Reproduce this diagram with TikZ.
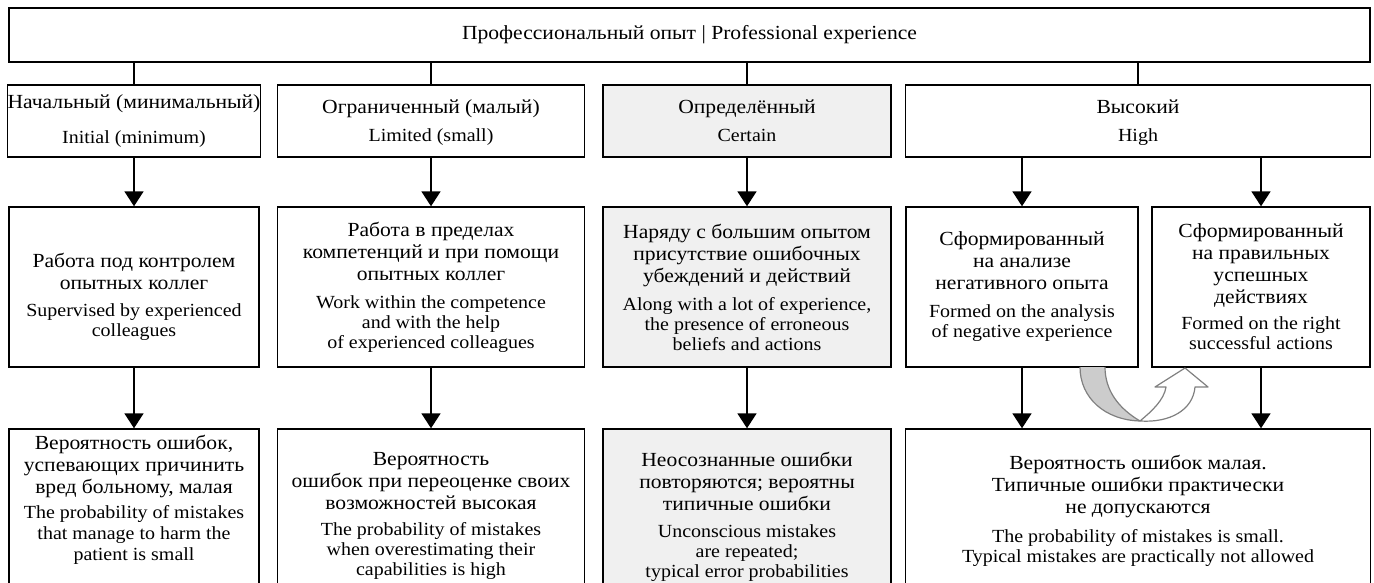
\documentclass[tikz,border=0pt]{standalone}
\usepackage{fontspec}
\setmainfont[FakeStretch=1.08]{Liberation Serif}
\usetikzlibrary{arrows.meta}
\definecolor{boxgray}{RGB}{240,240,240}
\definecolor{crescentgray}{RGB}{204,204,204}
\definecolor{outlinegray}{RGB}{128,128,128}
\newcommand\rutxt{\fontsize{20}{22}\selectfont}
\newcommand\entxt{\fontsize{18.5}{22}\selectfont}
\begin{document}
\begin{tikzpicture}[x=1pt,y=-1pt,
  box/.style={draw, line width=1.4pt, inner sep=0pt, align=center, font=\rutxt},
  graybox/.style={box, fill=boxgray},
  txt/.style={inner sep=0pt, align=center, font=\rutxt},
  link/.style={line width=1.8pt},
  arr/.style={link, -{Triangle[width=19pt,length=15pt]}},
  turn/.style={draw=outlinegray, line width=1.2pt, line join=round}]
\useasboundingbox (0,0) rectangle (1374,583);
\clip (0,0) rectangle (1374,583);
\fill[white] (0,0) rectangle (1374,583);

% top
\node[box, minimum width=1361pt, minimum height=54pt] (top) at (689.5,35)
  {Профессиональный опыт | Professional experience};

% level 2
\node[box, minimum width=250pt, minimum height=72pt] (l1) at (134,121)
  {Начальный (минимальный)\\[13pt]\entxt Initial (minimum)};
\node[box, minimum width=307pt, minimum height=72pt, text depth=-4pt] (l2) at (431,121)
  {Ограниченный (малый)\\[6pt]\entxt Limited (small)};
\node[graybox, minimum width=288pt, minimum height=72pt, text depth=-8pt] (l3) at (747,121)
  {Определённый\\[6pt]\entxt Certain};
\node[box, minimum width=465pt, minimum height=72pt, text depth=-4pt] (l4) at (1138,121)
  {Высокий\\[6pt]\entxt High};

% level 3
\node[box, minimum width=250pt, minimum height=160pt,
  label={[txt, name=tm1, yshift=-10pt]center:{Работа под контролем\\опытных коллег\\[5pt]\entxt Supervised by experienced\\[-2pt]\entxt colleagues}}] (m1) at (134,287) {};
\node[box, minimum width=307pt, minimum height=160pt] (m2) at (431,287)
  {Работа в пределах\\компетенций и при помощи\\опытных коллег\\[6pt]\entxt Work within the competence\\[-2pt]\entxt and with the help\\[-2pt]\entxt of experienced colleagues};
\node[graybox, minimum width=288pt, minimum height=160pt] (m3) at (747,287)
  {Наряду с большим опытом\\присутствие ошибочных\\убеждений и действий\\[6pt]\entxt Along with a lot of experience,\\[-2pt]\entxt the presence of erroneous\\[-2pt]\entxt beliefs and actions};
\node[box, minimum width=232pt, minimum height=160pt] (m4a) at (1022,287)
  {Сформированный\\на анализе\\негативного опыта\\[6pt]\entxt Formed on the analysis\\[-2pt]\entxt of negative experience};
\node[box, minimum width=218pt, minimum height=160pt] (m4b) at (1261,287)
  {Сформированный\\на правильных\\успешных\\действиях\\[4pt]\entxt Formed on the right\\[-2pt]\entxt successful actions};

% level 4 (boxes run past the lower edge)
\node[box, minimum width=250pt, minimum height=181pt] (b1) at (134,519.5) {};
\node[box, minimum width=307pt, minimum height=181pt] (b2) at (431,519.5) {};
\node[graybox, minimum width=288pt, minimum height=181pt] (b3) at (747,519.5) {};
\node[box, minimum width=465pt, minimum height=181pt] (b4) at (1138,519.5) {};

\node[txt] (tb1) at (134,500)
  {Вероятность ошибок,\\успевающих причинить\\вред больному, малая\\[3pt]\entxt The probability of mistakes\\[-1pt]\entxt that manage to harm the\\[-1pt]\entxt patient is small};
\node[txt] (tb2) at (431,516)
  {Вероятность\\ошибок при переоценке своих\\возможностей высокая\\[4pt]\entxt The probability of mistakes\\[-2pt]\entxt when overestimating their\\[-2pt]\entxt capabilities is high};
\node[txt] (tb3) at (747,517)
  {Неосознанные ошибки\\повторяются; вероятны\\типичные ошибки\\[5pt]\entxt Unconscious mistakes\\[-2pt]\entxt are repeated;\\[-2pt]\entxt typical error probabilities};
\node[txt] (tb4) at (1138,511)
  {Вероятность ошибок малая.\\Типичные ошибки практически\\не допускаются\\[7pt]\entxt The probability of mistakes is small.\\[-2pt]\entxt Typical mistakes are practically not allowed};

% connectors
\foreach \n in {l1,l2,l3,l4}
  \draw[link] (top.south -| \n.north) -- (\n.north);
\draw[arr] (l1.south) -- (m1.north);
\draw[arr] (l2.south) -- (m2.north);
\draw[arr] (l3.south) -- (m3.north);
\draw[arr] (l4.south -| m4a.north) -- (m4a.north);
\draw[arr] (l4.south -| m4b.north) -- (m4b.north);
\draw[arr] (m1.south) -- (b1.north);
\draw[arr] (m2.south) -- (b2.north);
\draw[arr] (m3.south) -- (b3.north);
\draw[arr] (m4a.south) -- (m4a.south |- b4.north);
\draw[arr] (m4b.south) -- (m4b.south |- b4.north);

% U-turn arrow from the negative-experience box to the right-actions box
\coordinate (ua) at (1080,367);
\coordinate (ub) at (1105,367);
\coordinate (uc) at (1140,421);
\fill[crescentgray] (ua) .. controls (1080,398) and (1105,420) .. (uc)
  .. controls (1118,408) and (1105,390) .. (ub) -- cycle;
\draw[turn] (ua) .. controls (1080,398) and (1105,420) .. (uc)
  .. controls (1118,408) and (1105,390) .. (ub);
\draw[turn, fill=white] (uc) .. controls (1152,411) and (1164,400) .. (1166,387)
  -- (1155,387) -- (1185,368) -- (1208,387) -- (1195,387)
  .. controls (1193,410) and (1170,423) .. (uc) -- cycle;
\end{tikzpicture}
\end{document}
